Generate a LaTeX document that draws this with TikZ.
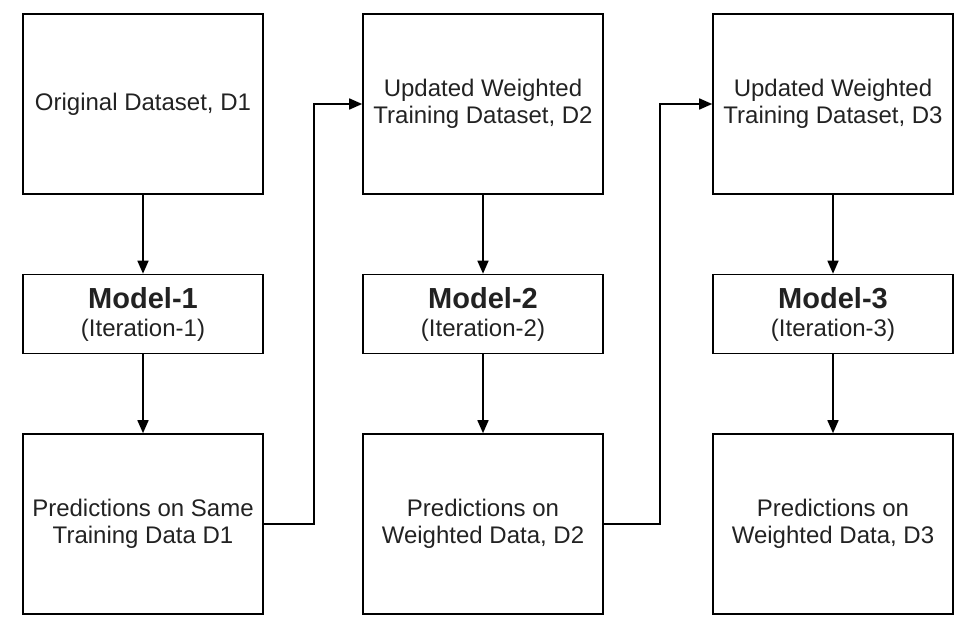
\documentclass[tikz,border=0pt]{standalone}
\usepackage{fontspec}
\setmainfont{Liberation Sans}
\usetikzlibrary{positioning,arrows.meta}

\definecolor{txtgray}{HTML}{222222}

\begin{document}
\begin{tikzpicture}[x=1pt,y=-1pt,node distance=210pt,on grid,
    line width=1.6pt,>={Stealth[length=13pt,width=11pt,inset=0pt]},
    block/.style={draw,minimum width=240pt,minimum height=180pt,inner sep=0pt,
      align=center,text=txtgray,font=\fontsize{24}{27}\selectfont},
    model/.style={block,minimum height=79pt}]
  \useasboundingbox (0,0) rectangle (980,634);
  \node[block] (d1) at (143,104) {Original Dataset, D1};
  \node[model] (m1) [below=of d1] {{\fontsize{29}{30}\selectfont\bfseries Model-1}\\[1pt](Iteration-1)};
  \node[block] (p1) [below=of m1] {Predictions on Same\\Training Data D1};

  \node[block] (d2) [right=340pt of d1] {Updated Weighted\\Training Dataset, D2};
  \node[model] (m2) [below=of d2] {{\fontsize{29}{30}\selectfont\bfseries Model-2}\\[1pt](Iteration-2)};
  \node[block] (p2) [below=of m2] {Predictions on\\Weighted Data, D2};

  \node[block] (d3) [right=350pt of d2] {Updated Weighted\\Training Dataset, D3};
  \node[model] (m3) [below=of d3] {{\fontsize{29}{30}\selectfont\bfseries Model-3}\\[1pt](Iteration-3)};
  \node[block] (p3) [below=of m3] {Predictions on\\Weighted Data, D3};

  \foreach \i in {1,2,3} {
    \draw[->] (d\i) -- (m\i);
    \draw[->] (m\i) -- (p\i);
  }
  \draw[->] (p1.east) -- ++(50pt,0) |- (d2.west);
  \draw[->] (p2.east) -- ++(56pt,0) |- (d3.west);
\end{tikzpicture}
\end{document}
